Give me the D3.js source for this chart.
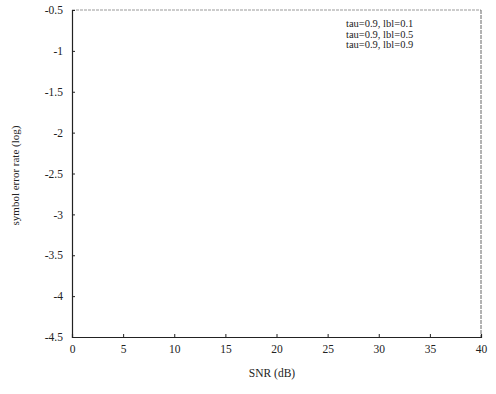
<!DOCTYPE html>
<html><head><meta charset="utf-8">
<script src="https://cdn.jsdelivr.net/npm/d3@7"></script>
<style>body{margin:0;background:#fff}svg{display:block}text{font-family:"Liberation Serif","DejaVu Serif",serif;fill:#222}</style>
</head><body><svg id="c" width="496" height="394"></svg>
<script>
const xTicks = [0,5,10,15,20,25,30,35,40];
const yTicks = [-0.5,-1,-1.5,-2,-2.5,-3,-3.5,-4,-4.5];
const yTickLabels = ["-0.5","-1","-1.5","-2","-2.5","-3","-3.5","-4","-4.5"];
const legendLabels = ["tau=0.9, lbl=0.1","tau=0.9, lbl=0.5","tau=0.9, lbl=0.9"];
const xLabel = "SNR (dB)";
const yLabel = "symbol error rate (log)";

const svg = d3.select("#c");
const m = {l:72, r:15, t:10, b:57};
const W = 496, H = 394;
const x = d3.scaleLinear().domain([0,40]).range([m.l, W-m.r]);
const y = d3.scaleLinear().domain([-4.5,-0.5]).range([H-m.b, m.t]);

// frame (top/right lighter, dotted as in the scan)
svg.append("line").attr("x1",x(0)).attr("x2",x(40)).attr("y1",y(-0.5)).attr("y2",y(-0.5)).attr("stroke","#999").attr("stroke-dasharray","3,1");
svg.append("line").attr("x1",x(40)).attr("x2",x(40)).attr("y1",y(-0.5)).attr("y2",y(-4.5)).attr("stroke","#666").attr("stroke-dasharray","4,1");

const xa = svg.append("g").attr("transform",`translate(0,${y(-4.5)})`)
  .call(d3.axisBottom(x).tickValues(xTicks).tickSize(-3).tickPadding(8).tickFormat(d3.format("d")));
const ya = svg.append("g").attr("transform",`translate(${x(0)},0)`)
  .call(d3.axisLeft(y).tickValues(yTicks).tickSize(-3).tickPadding(9).tickFormat((d,i)=>yTickLabels[i]));
[xa,ya].forEach(g=>{
  g.select(".domain").attr("stroke","#222").attr("stroke-width",1.2);
  g.selectAll(".tick line").attr("stroke","#222");
  g.selectAll("text").attr("font-size",11.5).attr("font-family","Liberation Serif").attr("fill","#222");
});

svg.append("text").attr("x",272).attr("y",377).attr("text-anchor","middle").attr("font-size",11.5).text(xLabel);
svg.append("text").attr("transform",`translate(19,${(y(-0.5)+y(-4.5))/2+2}) rotate(-90)`).attr("text-anchor","middle").attr("font-size",11).text(yLabel);

svg.append("g").selectAll("text").data(legendLabels).join("text")
  .attr("x",346).attr("y",(d,i)=>27+i*10.5).attr("font-size",10.5).text(d=>d);
</script></body></html>
